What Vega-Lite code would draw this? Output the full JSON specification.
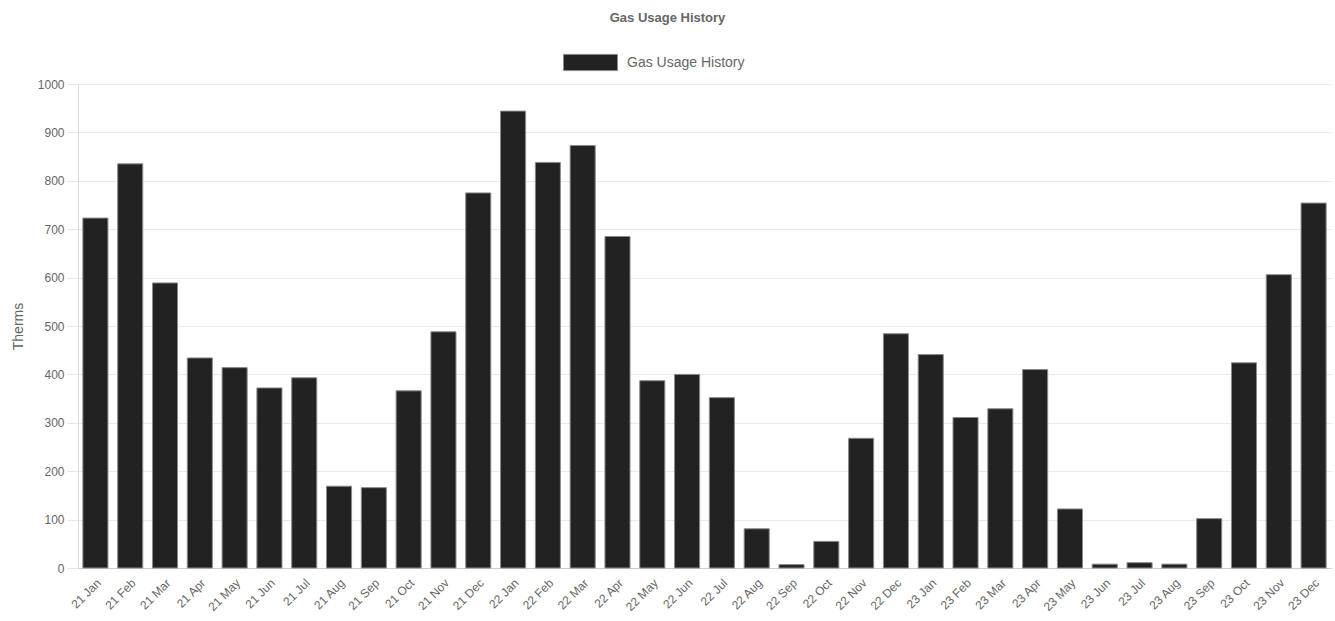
{
  "$schema": "https://vega.github.io/schema/vega-lite/v6.json",
  "width": 1253,
  "height": 484,
  "autosize": {"type": "none"},
  "padding": {"left": 78, "top": 84, "right": 4, "bottom": 53},
  "background": "white",
  "title": {
    "text": "Gas Usage History",
    "font": "Liberation Sans",
    "fontSize": 13,
    "fontWeight": "bold",
    "color": "#666666",
    "anchor": "middle",
    "frame": "group",
    "dx": -37,
    "offset": 10
  },
  "config": {
    "view": {"stroke": null},
    "font": "Liberation Sans"
  },
  "data": {
    "values": [
      {"month": "21 Jan", "therms": 723},
      {"month": "21 Feb", "therms": 835},
      {"month": "21 Mar", "therms": 589},
      {"month": "21 Apr", "therms": 434},
      {"month": "21 May", "therms": 414},
      {"month": "21 Jun", "therms": 372},
      {"month": "21 Jul", "therms": 393},
      {"month": "21 Aug", "therms": 169},
      {"month": "21 Sep", "therms": 166},
      {"month": "21 Oct", "therms": 366},
      {"month": "21 Nov", "therms": 488},
      {"month": "21 Dec", "therms": 775},
      {"month": "22 Jan", "therms": 944},
      {"month": "22 Feb", "therms": 838},
      {"month": "22 Mar", "therms": 873},
      {"month": "22 Apr", "therms": 685},
      {"month": "22 May", "therms": 387},
      {"month": "22 Jun", "therms": 400},
      {"month": "22 Jul", "therms": 352},
      {"month": "22 Aug", "therms": 81},
      {"month": "22 Sep", "therms": 7},
      {"month": "22 Oct", "therms": 55},
      {"month": "22 Nov", "therms": 268},
      {"month": "22 Dec", "therms": 484},
      {"month": "23 Jan", "therms": 441},
      {"month": "23 Feb", "therms": 311},
      {"month": "23 Mar", "therms": 329},
      {"month": "23 Apr", "therms": 410},
      {"month": "23 May", "therms": 122},
      {"month": "23 Jun", "therms": 8},
      {"month": "23 Jul", "therms": 11},
      {"month": "23 Aug", "therms": 8},
      {"month": "23 Sep", "therms": 102},
      {"month": "23 Oct", "therms": 424},
      {"month": "23 Nov", "therms": 606},
      {"month": "23 Dec", "therms": 754}
    ]
  },
  "mark": {"type": "bar", "stroke": "#8a8a8a", "strokeWidth": 1},
  "encoding": {
    "x": {
      "field": "month",
      "type": "nominal",
      "sort": null,
      "scale": {"paddingInner": 0.28, "paddingOuter": 0.14},
      "axis": {
        "title": null,
        "labelAngle": -45,
        "labelFontSize": 12,
        "labelColor": "#666666",
        "ticks": false,
        "labelPadding": 9,
        "domainColor": "#cccccc",
        "grid": false
      }
    },
    "y": {
      "field": "therms",
      "type": "quantitative",
      "scale": {"domain": [0, 1000], "nice": false},
      "axis": {
        "title": "Therms",
        "titleFontSize": 14,
        "titleFontWeight": "normal",
        "titleColor": "#666666",
        "titlePadding": 12,
        "format": "d",
        "values": [0, 100, 200, 300, 400, 500, 600, 700, 800, 900, 1000],
        "labelFontSize": 12,
        "labelColor": "#666666",
        "labelPadding": 3,
        "tickSize": 11,
        "tickColor": "#e6e6e6",
        "gridColor": "#e9e9e9",
        "domainColor": "#dddddd"
      }
    },
    "color": {
      "datum": "Gas Usage History",
      "type": "nominal",
      "scale": {"range": ["#222222"]},
      "legend": {
        "title": null,
        "orient": "none",
        "legendX": 485,
        "legendY": -49,
        "symbolType": "M-1,-0.3H1V0.3H-1Z",
        "symbolSize": 2916,
        "symbolStrokeColor": "#8a8a8a",
        "symbolStrokeWidth": 1,
        "labelFontSize": 14,
        "labelColor": "#666666",
        "labelOffset": 9
      }
    }
  }
}
